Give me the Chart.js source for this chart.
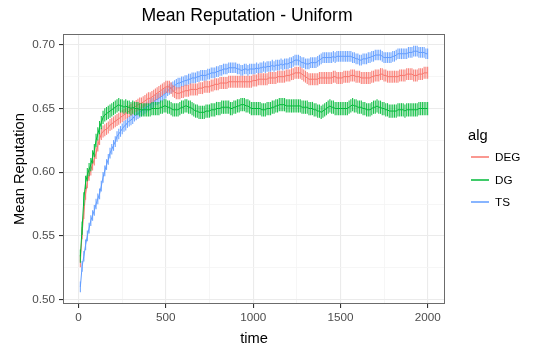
<!DOCTYPE html>
<html>
<head>
<meta charset="utf-8">
<script src="https://cdn.jsdelivr.net/npm/chart.js@4.4.1/dist/chart.umd.min.js"></script>
<style>
  html, body { margin: 0; padding: 0; background: #fff; }
  #wrap { width: 538px; height: 351px; }
</style>
</head>
<body>
<div id="wrap"><canvas id="repChart"></canvas></div>
<script>
// time steps (x)
var time = [
  10, 20, 30, 40, 50, 60, 70, 80, 90, 100,
  110, 120, 130, 140, 150, 160, 170, 180, 190, 200,
  210, 220, 230, 240, 250, 260, 270, 280, 290, 300,
  310, 320, 330, 340, 350, 360, 370, 380, 390, 400,
  410, 420, 430, 440, 450, 460, 470, 480, 490, 500,
  510, 520, 530, 540, 550, 560, 570, 580, 590, 600,
  610, 620, 630, 640, 650, 660, 670, 680, 690, 700,
  710, 720, 730, 740, 750, 760, 770, 780, 790, 800,
  810, 820, 830, 840, 850, 860, 870, 880, 890, 900,
  910, 920, 930, 940, 950, 960, 970, 980, 990, 1000,
  1010, 1020, 1030, 1040, 1050, 1060, 1070, 1080, 1090, 1100,
  1110, 1120, 1130, 1140, 1150, 1160, 1170, 1180, 1190, 1200,
  1210, 1220, 1230, 1240, 1250, 1260, 1270, 1280, 1290, 1300,
  1310, 1320, 1330, 1340, 1350, 1360, 1370, 1380, 1390, 1400,
  1410, 1420, 1430, 1440, 1450, 1460, 1470, 1480, 1490, 1500,
  1510, 1520, 1530, 1540, 1550, 1560, 1570, 1580, 1590, 1600,
  1610, 1620, 1630, 1640, 1650, 1660, 1670, 1680, 1690, 1700,
  1710, 1720, 1730, 1740, 1750, 1760, 1770, 1780, 1790, 1800,
  1810, 1820, 1830, 1840, 1850, 1860, 1870, 1880, 1890, 1900,
  1910, 1920, 1930, 1940, 1950, 1960, 1970, 1980, 1990, 2000
];

var degMean = [
  0.530, 0.552, 0.568, 0.583, 0.592, 0.598, 0.602, 0.606, 0.610, 0.615,
  0.621, 0.626, 0.630, 0.632, 0.633, 0.634, 0.635, 0.637, 0.638, 0.639,
  0.640, 0.641, 0.642, 0.643, 0.644, 0.645, 0.646, 0.647, 0.648, 0.649,
  0.650, 0.651, 0.652, 0.653, 0.654, 0.654, 0.655, 0.656, 0.657, 0.658,
  0.658, 0.659, 0.660, 0.661, 0.662, 0.663, 0.664, 0.665, 0.666, 0.667,
  0.667, 0.667, 0.666, 0.664, 0.663, 0.662, 0.662, 0.662, 0.663, 0.663,
  0.664, 0.664, 0.664, 0.665, 0.665, 0.665, 0.665, 0.665, 0.666, 0.666,
  0.666, 0.667, 0.667, 0.667, 0.667, 0.668, 0.668, 0.669, 0.669, 0.669,
  0.670, 0.670, 0.670, 0.670, 0.670, 0.671, 0.671, 0.671, 0.671, 0.671,
  0.671, 0.671, 0.671, 0.671, 0.671, 0.671, 0.671, 0.671, 0.671, 0.672,
  0.672, 0.672, 0.673, 0.673, 0.673, 0.673, 0.673, 0.673, 0.674, 0.674,
  0.674, 0.674, 0.674, 0.675, 0.675, 0.675, 0.675, 0.675, 0.676, 0.676,
  0.676, 0.677, 0.677, 0.678, 0.678, 0.678, 0.678, 0.677, 0.676, 0.675,
  0.674, 0.673, 0.673, 0.673, 0.673, 0.673, 0.673, 0.674, 0.674, 0.674,
  0.674, 0.674, 0.674, 0.674, 0.674, 0.675, 0.675, 0.674, 0.674, 0.674,
  0.674, 0.675, 0.675, 0.675, 0.675, 0.676, 0.676, 0.676, 0.675, 0.675,
  0.675, 0.674, 0.674, 0.674, 0.674, 0.674, 0.674, 0.675, 0.675, 0.676,
  0.676, 0.676, 0.677, 0.677, 0.676, 0.676, 0.675, 0.675, 0.675, 0.675,
  0.675, 0.675, 0.675, 0.676, 0.676, 0.676, 0.676, 0.677, 0.677, 0.677,
  0.677, 0.676, 0.676, 0.676, 0.677, 0.677, 0.677, 0.678, 0.678, 0.678
];

var dgMean = [
  0.534, 0.556, 0.579, 0.592, 0.598, 0.602, 0.606, 0.612, 0.617, 0.625,
  0.630, 0.635, 0.639, 0.643, 0.645, 0.646, 0.647, 0.648, 0.649, 0.650,
  0.651, 0.652, 0.653, 0.652, 0.652, 0.651, 0.652, 0.651, 0.651, 0.650,
  0.651, 0.650, 0.650, 0.650, 0.649, 0.649, 0.649, 0.649, 0.649, 0.649,
  0.649, 0.650, 0.650, 0.650, 0.650, 0.650, 0.651, 0.651, 0.652, 0.652,
  0.651, 0.651, 0.650, 0.649, 0.649, 0.649, 0.649, 0.650, 0.651, 0.651,
  0.652, 0.652, 0.651, 0.651, 0.650, 0.649, 0.648, 0.648, 0.647, 0.647,
  0.647, 0.647, 0.648, 0.648, 0.648, 0.649, 0.649, 0.649, 0.650, 0.650,
  0.650, 0.651, 0.651, 0.651, 0.651, 0.651, 0.650, 0.650, 0.651, 0.651,
  0.652, 0.652, 0.653, 0.653, 0.653, 0.652, 0.652, 0.651, 0.650, 0.650,
  0.650, 0.650, 0.650, 0.650, 0.649, 0.649, 0.649, 0.650, 0.650, 0.650,
  0.651, 0.651, 0.652, 0.652, 0.653, 0.653, 0.653, 0.653, 0.652, 0.652,
  0.652, 0.652, 0.652, 0.652, 0.652, 0.652, 0.652, 0.651, 0.651, 0.651,
  0.651, 0.650, 0.650, 0.650, 0.649, 0.649, 0.648, 0.648, 0.647, 0.648,
  0.649, 0.650, 0.651, 0.652, 0.651, 0.651, 0.650, 0.650, 0.650, 0.650,
  0.650, 0.650, 0.650, 0.650, 0.651, 0.652, 0.653, 0.652, 0.652, 0.651,
  0.651, 0.651, 0.650, 0.650, 0.649, 0.649, 0.649, 0.650, 0.651, 0.651,
  0.652, 0.651, 0.651, 0.650, 0.650, 0.649, 0.649, 0.648, 0.648, 0.648,
  0.648, 0.648, 0.649, 0.649, 0.649, 0.649, 0.648, 0.649, 0.649, 0.649,
  0.649, 0.649, 0.649, 0.649, 0.650, 0.650, 0.650, 0.650, 0.650, 0.650
];

var tsMean = [
  0.510, 0.526, 0.534, 0.543, 0.550, 0.556, 0.562, 0.566, 0.570, 0.575,
  0.579, 0.583, 0.589, 0.596, 0.601, 0.606, 0.610, 0.615, 0.618, 0.621,
  0.624, 0.628, 0.630, 0.632, 0.634, 0.636, 0.637, 0.639, 0.640, 0.641,
  0.642, 0.644, 0.645, 0.646, 0.647, 0.648, 0.649, 0.650, 0.651, 0.652,
  0.653, 0.654, 0.655, 0.657, 0.657, 0.658, 0.659, 0.660, 0.661, 0.662,
  0.664, 0.665, 0.666, 0.667, 0.668, 0.669, 0.670, 0.670, 0.671, 0.671,
  0.672, 0.672, 0.673, 0.673, 0.674, 0.674, 0.674, 0.675, 0.675, 0.676,
  0.676, 0.676, 0.676, 0.677, 0.677, 0.678, 0.678, 0.678, 0.679, 0.679,
  0.680, 0.680, 0.681, 0.681, 0.681, 0.682, 0.682, 0.682, 0.682, 0.682,
  0.681, 0.681, 0.680, 0.680, 0.681, 0.681, 0.680, 0.681, 0.681, 0.681,
  0.681, 0.682, 0.681, 0.682, 0.682, 0.683, 0.682, 0.683, 0.683, 0.683,
  0.684, 0.683, 0.684, 0.684, 0.684, 0.685, 0.684, 0.685, 0.685, 0.685,
  0.686, 0.686, 0.687, 0.688, 0.688, 0.688, 0.687, 0.686, 0.686, 0.685,
  0.685, 0.685, 0.686, 0.686, 0.686, 0.686, 0.687, 0.688, 0.689, 0.690,
  0.690, 0.690, 0.690, 0.690, 0.690, 0.691, 0.690, 0.691, 0.691, 0.691,
  0.691, 0.691, 0.691, 0.691, 0.691, 0.691, 0.690, 0.690, 0.689, 0.689,
  0.688, 0.688, 0.689, 0.689, 0.689, 0.690, 0.690, 0.691, 0.691, 0.692,
  0.692, 0.692, 0.692, 0.691, 0.690, 0.690, 0.690, 0.690, 0.690, 0.691,
  0.691, 0.692, 0.693, 0.693, 0.693, 0.693, 0.693, 0.693, 0.694, 0.694,
  0.694, 0.695, 0.695, 0.695, 0.694, 0.694, 0.694, 0.694, 0.693, 0.693
];

// half height of the error bars
var degErr = 0.0047;
var dgErr = 0.0052;
var tsErr = 0.0042;

var algNames = ['DEG', 'DG', 'TS'];
var algColors = ['#F8766D', '#00BA38', '#619CFF'];

var xMajor = [0, 500, 1000, 1500, 2000];
var xMinor = [250, 750, 1250, 1750];
var yMajor = [0.50, 0.55, 0.60, 0.65, 0.70];
var yMinor = [0.525, 0.575, 0.625, 0.675];

var FONT = "'Liberation Sans', Arial, Helvetica, sans-serif";

function isMajor(list, v) {
  for (var i = 0; i < list.length; i++) {
    if (Math.abs(list[i] - v) < 1e-9) return true;
  }
  return false;
}

function pts(vals) {
  return time.map(function(t, i) { return { x: t, y: vals[i] }; });
}

// errorbars, drawn just before each line so the layering matches
var errorBars = {
  id: 'errorBars',
  beforeDatasetDraw: function(chart, args) {
    var ds = chart.data.datasets[args.index];
    var xs = chart.scales.x, ys = chart.scales.y;
    var ctx = chart.ctx, a = chart.chartArea;
    ctx.save();
    ctx.beginPath();
    ctx.rect(a.left, a.top, a.right - a.left, a.bottom - a.top);
    ctx.clip();
    ctx.strokeStyle = ds.borderColor;
    ctx.globalAlpha = 0.9;
    ctx.lineWidth = 1.1;
    ds.data.forEach(function(p) {
      var px = xs.getPixelForValue(p.x);
      ctx.beginPath();
      ctx.moveTo(px, ys.getPixelForValue(p.y - ds.err));
      ctx.lineTo(px, ys.getPixelForValue(p.y + ds.err));
      ctx.stroke();
    });
    ctx.restore();
  }
};

// panel border, title and the "alg" legend
var decor = {
  id: 'decor',
  afterDraw: function(chart) {
    var ctx = chart.ctx, a = chart.chartArea;
    ctx.save();
    ctx.strokeStyle = '#6b6b6b';
    ctx.lineWidth = 1;
    ctx.strokeRect(Math.round(a.left) + 0.5, Math.round(a.top) + 0.5,
      Math.round(a.right - a.left) - 1, Math.round(a.bottom - a.top) - 1);

    ctx.fillStyle = '#000';
    ctx.textAlign = 'center';
    ctx.textBaseline = 'middle';
    ctx.font = '17.6px ' + FONT;
    ctx.fillText('Mean Reputation - Uniform', 247, 16);

    ctx.textAlign = 'left';
    ctx.font = '14.7px ' + FONT;
    ctx.fillText('alg', 468, 136);
    ctx.font = '11.7px ' + FONT;
    var ys = [157, 180, 202];
    algNames.forEach(function(n, i) {
      ctx.strokeStyle = algColors[i];
      ctx.lineWidth = 1.5;
      ctx.beginPath();
      ctx.moveTo(471, ys[i]);
      ctx.lineTo(489, ys[i]);
      ctx.stroke();
      ctx.fillStyle = '#000';
      ctx.fillText(n, 495, ys[i] + 1);
    });
    ctx.restore();
  }
};

var gridColor = function(list) {
  return function(c) { return isMajor(list, c.tick.value) ? '#EBEBEB' : '#F4F4F4'; };
};
var gridWidth = function(list) {
  return function(c) { return isMajor(list, c.tick.value) ? 1.1 : 0.8; };
};
var tickColor = function(list) {
  return function(c) { return isMajor(list, c.tick.value) ? '#333333' : 'rgba(0,0,0,0)'; };
};

var options = {
  type: 'line',
  data: {
    datasets: [
      { label: 'DEG', data: pts(degMean), err: degErr, borderColor: algColors[0], order: 1 },
      { label: 'DG', data: pts(dgMean), err: dgErr, borderColor: algColors[1], order: 0 },
      { label: 'TS', data: pts(tsMean), err: tsErr, borderColor: algColors[2], order: 2 }
    ]
  },
  options: {
    responsive: true,
    maintainAspectRatio: false,
    animation: false,
    parsing: false,
    elements: {
      point: { radius: 0 },
      line: { borderWidth: 1, tension: 0 }
    },
    layout: { padding: { top: 34, right: 93, left: 0, bottom: 0 } },
    plugins: {
      legend: { display: false },
      tooltip: { enabled: false },
      title: { display: false }
    },
    scales: {
      x: {
        type: 'linear',
        min: -89.5,
        max: 2099.5,
        afterBuildTicks: function(s) {
          s.ticks = xMajor.concat(xMinor).sort(function(a, b) { return a - b; })
            .map(function(v) { return { value: v }; });
        },
        afterFit: function(s) { s.height = 47; },
        ticks: {
          autoSkip: false,
          maxRotation: 0,
          padding: 3,
          color: '#4D4D4D',
          font: { family: FONT, size: 11.7 },
          callback: function(v) { return isMajor(xMajor, v) ? String(v) : ''; }
        },
        grid: {
          color: gridColor(xMajor),
          lineWidth: gridWidth(xMajor),
          tickColor: tickColor(xMajor),
          tickLength: 4,
          drawTicks: true
        },
        border: { display: false },
        title: {
          display: true,
          text: 'time',
          color: '#000',
          font: { family: FONT, size: 14.7 },
          padding: { top: 0, bottom: 3 }
        }
      },
      y: {
        type: 'linear',
        min: 0.4965,
        max: 0.7085,
        afterBuildTicks: function(s) {
          s.ticks = yMajor.concat(yMinor).sort(function(a, b) { return a - b; })
            .map(function(v) { return { value: v }; });
        },
        afterFit: function(s) { s.width = 63; },
        ticks: {
          autoSkip: false,
          padding: 4,
          color: '#4D4D4D',
          font: { family: FONT, size: 11.7 },
          callback: function(v) { return isMajor(yMajor, v) ? v.toFixed(2) : ''; }
        },
        grid: {
          color: gridColor(yMajor),
          lineWidth: gridWidth(yMajor),
          tickColor: tickColor(yMajor),
          tickLength: 4,
          drawTicks: true
        },
        border: { display: false },
        title: {
          display: true,
          text: 'Mean Reputation',
          color: '#000',
          font: { family: FONT, size: 14.7 },
          padding: { top: 11, bottom: 0 }
        }
      }
    }
  },
  plugins: [errorBars, decor]
};

var chart = new Chart(document.getElementById('repChart'), options);
</script>
</body>
</html>
